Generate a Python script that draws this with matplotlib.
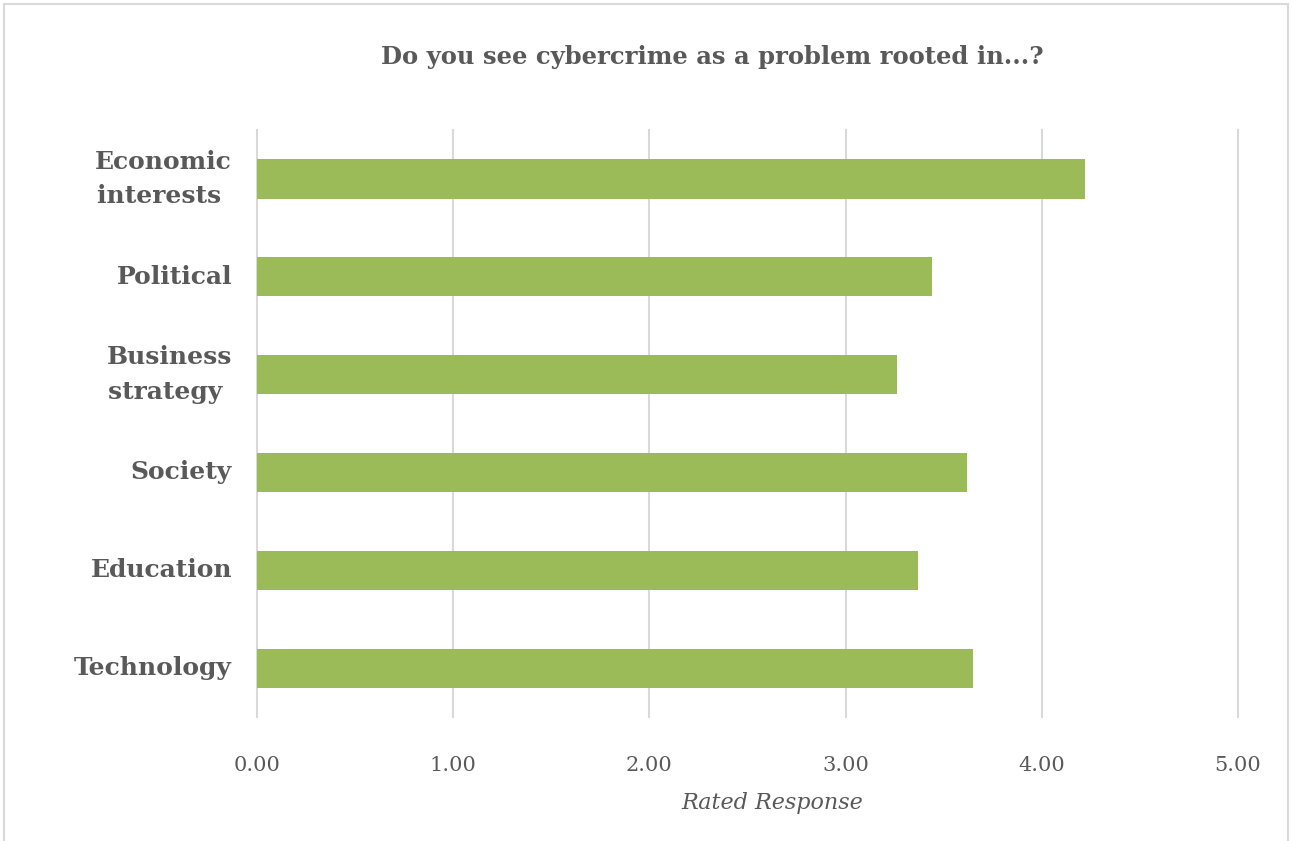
import matplotlib.pyplot as plt
from matplotlib.patches import Rectangle

# survey data
categories = ["Economic\ninterests ", "Political", "Business\nstrategy ",
              "Society", "Education", "Technology"]
scores = [4.22, 3.44, 3.26, 3.62, 3.37, 3.65]
xticks = [0, 1, 2, 3, 4, 5]

bar_color = "#9BBB59"
text_color = "#595959"
grid_color = "#D9D9D9"
serif = ["DejaVu Serif"]

fig = plt.figure(figsize=(12.92, 8.41), dpi=100)
ax = fig.add_axes([0.1989, 0.1474, 0.7593, 0.6980])

y = list(range(len(categories)))
ax.barh(y, scores, height=0.40, color=bar_color, zorder=3)

ax.set_ylim(len(categories) - 0.5, -0.5)
ax.set_xlim(0, 5)
ax.set_xticks(xticks)
ax.set_xticklabels([f"{v:.2f}" for v in xticks], family=serif,
                   fontsize=15, color=text_color)
ax.set_yticks(y)
ax.set_yticklabels(categories, family=serif, fontsize=18, fontweight="bold",
                   color=text_color, multialignment="center", linespacing=1.55,
                   va="center")
ax.tick_params(axis="x", length=0, pad=28)
ax.tick_params(axis="y", length=0, pad=18)

ax.grid(True, axis="x", color=grid_color, linewidth=1.5, zorder=0)
for gl in ax.get_xgridlines():
    gl.set_clip_on(False)
for s in ax.spines.values():
    s.set_visible(False)

ax.set_xlabel("Rated Response", family=serif, style="italic", fontsize=16,
              color=text_color)
ax.xaxis.set_label_coords(0.525, -0.128)

fig.text(0.551, 0.932, "Do you see cybercrime as a problem rooted in...?",
         ha="center", va="center", family=serif, fontsize=17.5,
         fontweight="bold", color=text_color)

# light chart frame
fig.patches.append(Rectangle((0.003, -0.01), 0.994, 1.005, transform=fig.transFigure,
                             fill=False, edgecolor="#D9D9D9", linewidth=1.5))

fig.savefig("out.png", dpi=100, facecolor="white")
